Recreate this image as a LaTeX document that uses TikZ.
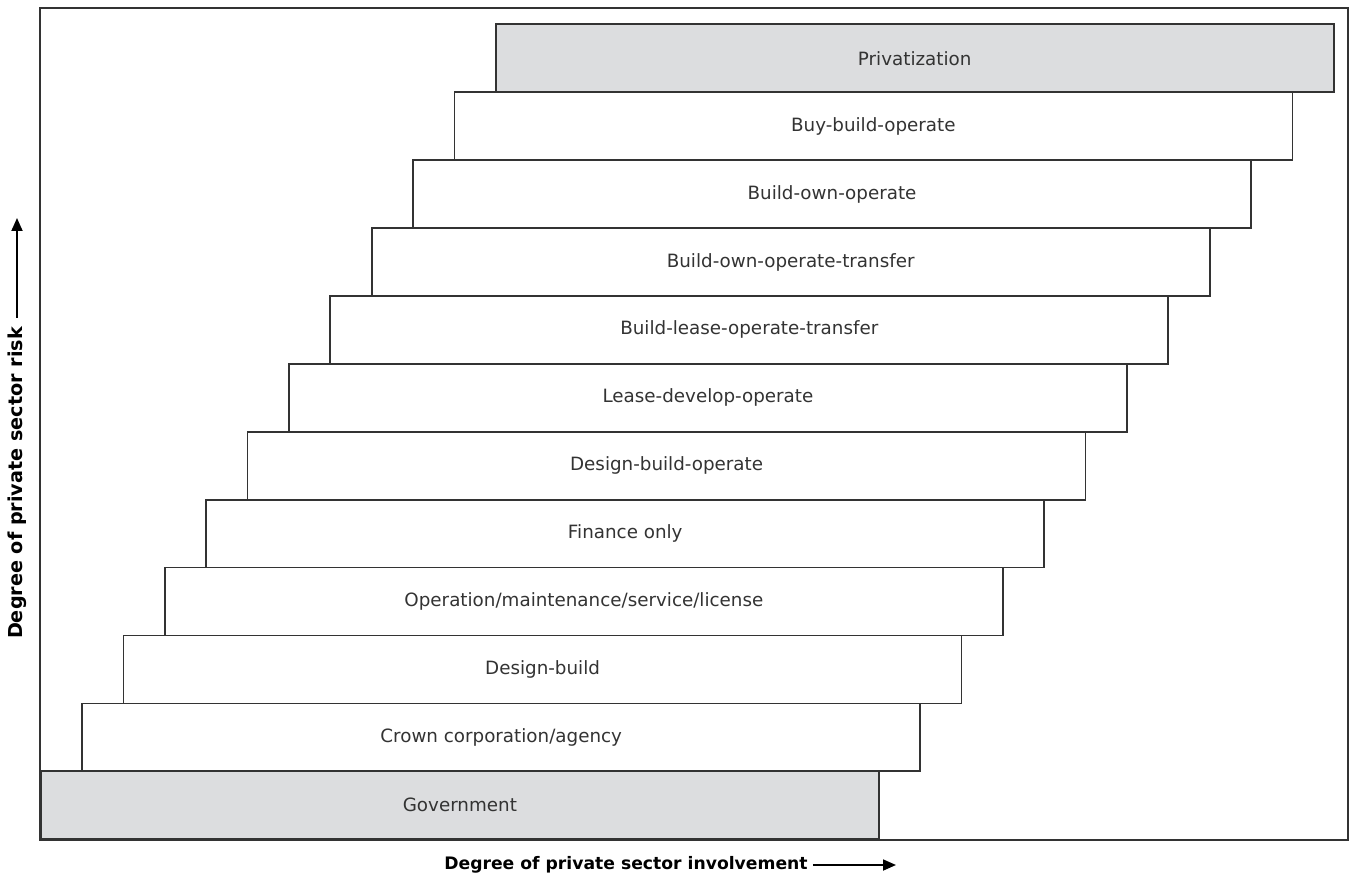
\documentclass[tikz,border=0pt]{standalone}
\usepackage{fontspec}
\setmainfont{DejaVu Sans}
\usetikzlibrary{arrows.meta}
\definecolor{stagefill}{HTML}{DCDDDF}
\definecolor{stageline}{HTML}{333333}
\tikzset{
  stage/.style={draw=stageline, line width=1.7pt, minimum width=838pt, minimum height=67.9pt,
    anchor=south west, inner sep=0pt, text=stageline, font=\fontsize{18.3}{20}\selectfont},
  endstage/.style={stage, fill=stagefill},
  axislabel/.style={inner sep=0pt, text=black, font=\bfseries\fontsize{17.2}{19}\selectfont},
  axisarrow/.style={line width=1.8pt, -{Triangle[length=13pt,width=11pt]}}
}

\begin{document}
\begin{tikzpicture}[x=1pt,y=-1pt]
    \useasboundingbox (0,0) rectangle (1351,874);
    % frame
    \draw[stageline, line width=1.7pt] (40,8) rectangle (1348,840);
    % stages, bottom to top
    \node[endstage] (stage0) at (40,840) {Government};
    \foreach \lbl [count=\i] in {Crown corporation/agency, Design-build,
        Operation/maintenance/service/license, Finance only, Design-build-operate,
        Lease-develop-operate, Build-lease-operate-transfer, Build-own-operate-transfer,
        Build-own-operate, Buy-build-operate}
        \node[stage, fill=white] (stage\i) at ({40+41.35*\i},{840-67.9*\i}) {\lbl};
    \node[endstage] (stage11) at ({40+41.35*11},{840-67.9*11}) {Privatization};
    % axes
    \node[axislabel] (xlabel) at (626,865) {Degree of private sector involvement};
    \coordinate (xtip) at (896,865);
    \draw[axisarrow] ([xshift=5pt]xlabel.east) -- (xtip);
    \node[axislabel, rotate=90, font=\bfseries\fontsize{19.2}{21}\selectfont] (ylabel) at (17,483) {Degree of private sector risk};
    \coordinate (ytip) at (17,218);
    \draw[axisarrow] ([yshift=9pt]ylabel.east) -- (ytip);
\end{tikzpicture}
\end{document}
